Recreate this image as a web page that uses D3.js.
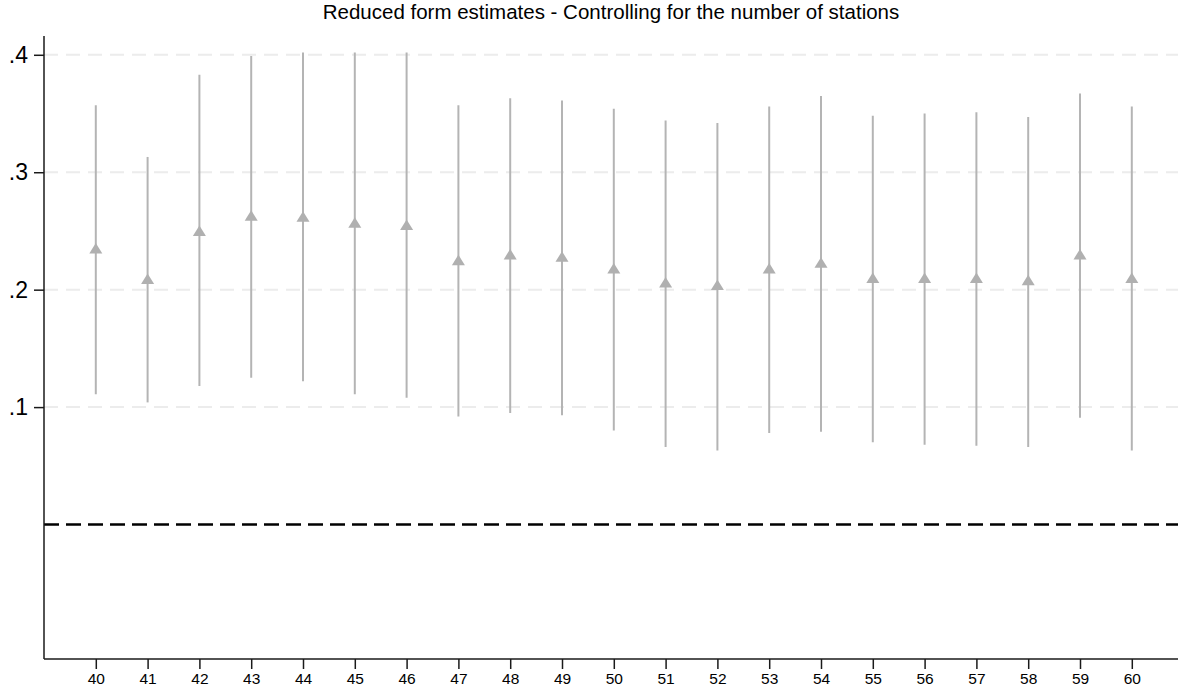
<!DOCTYPE html>
<html>
<head>
<meta charset="utf-8">
<script src="https://cdn.jsdelivr.net/npm/d3@7"></script>
<style>
  body { margin: 0; background: #fff; }
  svg { display: block; font-family: "Liberation Sans", Arial, sans-serif; }
</style>
</head>
<body>
<div id="chart"></div>
<script>
var svgWidth = 1178;
var svgHeight = 693;

// bandwidth / cutoff values on the x axis
var cutoffs = [40, 41, 42, 43, 44, 45, 46, 47, 48, 49, 50, 51, 52, 53, 54, 55, 56, 57, 58, 59, 60];

// point estimates and confidence bounds
var estimates = [0.235, 0.209, 0.250, 0.263, 0.262, 0.257, 0.255, 0.225, 0.230, 0.228, 0.218,
  0.206, 0.204, 0.218, 0.223, 0.210, 0.210, 0.210, 0.208, 0.230, 0.210];
var upper = [0.357, 0.313, 0.383, 0.399, 0.402, 0.402, 0.402, 0.357, 0.363, 0.361, 0.354,
  0.344, 0.342, 0.356, 0.365, 0.348, 0.350, 0.351, 0.347, 0.367, 0.356];
var lower = [0.111, 0.104, 0.118, 0.125, 0.122, 0.111, 0.108, 0.092, 0.095, 0.093, 0.080,
  0.066, 0.063, 0.078, 0.079, 0.070, 0.068, 0.067, 0.066, 0.091, 0.063];

var yTicks = [0.1, 0.2, 0.3, 0.4];
var yTickLabels = [".1", ".2", ".3", ".4"];
var title = "Reduced form estimates - Controlling for the number of stations";

var rows = cutoffs.map(function (c, i) {
  return { cutoff: c, est: estimates[i], hi: upper[i], lo: lower[i] };
});

var svg = d3.select("#chart")
  .append("svg")
  .attr("width", svgWidth)
  .attr("height", svgHeight);

// scales
var xScale = d3.scaleLinear()
  .domain([39, 61])
  .range([44, 44 + 22 * 51.8]);

var yScale = d3.scaleLinear()
  .domain([-0.1145, 0.416])
  .range([659, 36]);

// light dashed gridlines
svg.append("g")
  .selectAll("line")
  .data(yTicks)
  .enter()
  .append("line")
  .attr("x1", 44)
  .attr("x2", svgWidth)
  .attr("y1", d => yScale(d))
  .attr("y2", d => yScale(d))
  .attr("stroke", "#ececec")
  .attr("stroke-width", 2)
  .attr("stroke-dasharray", "14,8");

// reference line at zero
svg.append("line")
  .attr("x1", 44)
  .attr("x2", svgWidth)
  .attr("y1", yScale(0))
  .attr("y2", yScale(0))
  .attr("stroke", "#000")
  .attr("stroke-width", 2.6)
  .attr("stroke-dasharray", "15,7");

// confidence interval spikes
svg.append("g")
  .selectAll("line")
  .data(rows)
  .enter()
  .append("line")
  .attr("x1", d => xScale(d.cutoff))
  .attr("x2", d => xScale(d.cutoff))
  .attr("y1", d => yScale(d.lo))
  .attr("y2", d => yScale(d.hi))
  .attr("stroke", "#b4b4b4")
  .attr("stroke-width", 2);

// triangle markers
var tri = "M0,-5.5 L6.5,5 L-6.5,5 Z";
svg.append("g")
  .selectAll("path")
  .data(rows)
  .enter()
  .append("path")
  .attr("d", tri)
  .attr("transform", d => `translate(${xScale(d.cutoff)}, ${yScale(d.est)})`)
  .attr("fill", "#b0b0b0");

// axes
var bottomAxis = d3.axisBottom(xScale)
  .tickValues(cutoffs)
  .tickFormat(d3.format("d"))
  .tickSize(10)
  .tickPadding(4)
  .tickSizeOuter(0);

var leftAxis = d3.axisLeft(yScale)
  .tickValues(yTicks)
  .tickFormat((d, i) => yTickLabels[i])
  .tickSize(10)
  .tickPadding(6)
  .tickSizeOuter(0);

var xAxis = svg.append("g")
  .attr("transform", "translate(0, 659)")
  .call(bottomAxis);

xAxis.select(".domain")
  .attr("d", `M44,0H${svgWidth}`);

var yAxis = svg.append("g")
  .attr("transform", "translate(44, 0)")
  .call(leftAxis);

yAxis.select(".domain")
  .attr("d", "M0,36V659");

svg.selectAll(".domain")
  .attr("stroke", "#1a1a1a")
  .attr("stroke-width", 1.5);

svg.selectAll(".tick line")
  .attr("stroke", "#1a1a1a")
  .attr("stroke-width", 1.5);

xAxis.selectAll("text")
  .attr("font-size", 15.5)
  .attr("font-family", "'Liberation Sans', Arial, sans-serif")
  .attr("fill", "#000");

yAxis.selectAll("text")
  .attr("font-size", 23)
  .attr("font-family", "'Liberation Sans', Arial, sans-serif")
  .attr("fill", "#000");

// chart title
svg.append("text")
  .attr("x", (44 + svgWidth) / 2)
  .attr("y", 19)
  .attr("text-anchor", "middle")
  .attr("font-size", 20.5)
  .attr("fill", "#000")
  .text(title);
</script>
</body>
</html>
